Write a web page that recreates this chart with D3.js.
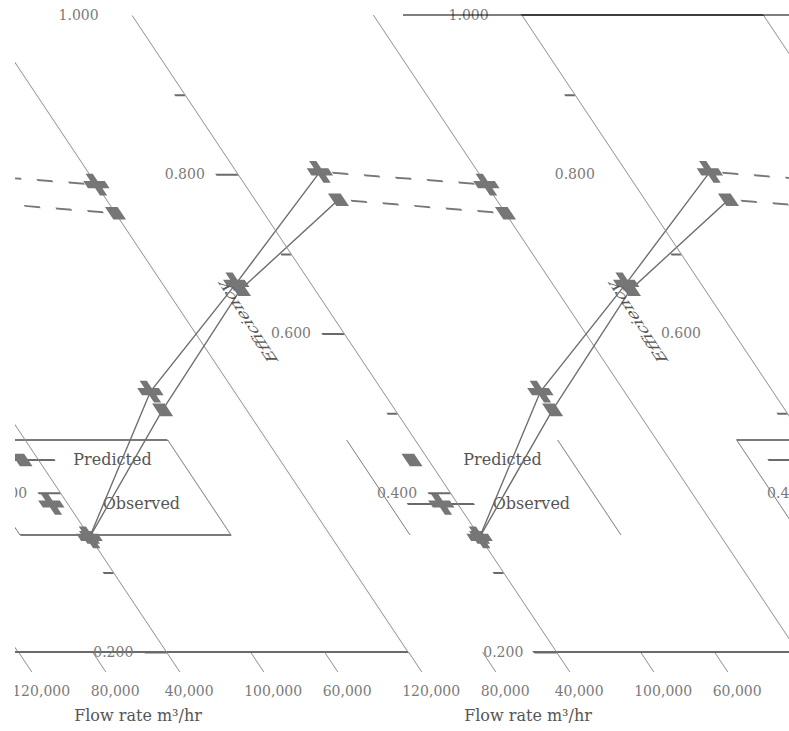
<!DOCTYPE html>
<html><head><meta charset="utf-8">
<script src="https://cdn.jsdelivr.net/npm/d3@7"></script>
<style>body{margin:0;background:#fff}svg{display:block}</style>
</head><body><svg id="chart" width="789" height="731"></svg>
<script>
// ---- data ----
const flowRates = [40000, 60000, 80000, 100000, 120000];
const observedEff = [0.344, 0.527, 0.663, 0.803, 0.787];
const predictedEff = [0.344, 0.504, 0.655, 0.768, 0.751];
const xTickValues = [40000, 60000, 80000, 100000, 120000];
const yMajorTicks = [0.2, 0.4, 0.6, 0.8, 1.0];
const yMinorTicks = [0.3, 0.5, 0.7, 0.9];
const seriesNames = ["Predicted", "Observed"];
const xTitle = "Flow rate m³/hr";
const yTitle = "Efficiency";

// ---- layout ----
const W = 789, H = 731;
const K = 0.6667;                       // shear
const ANG = Math.atan(K) * 180 / Math.PI;
const BASE = 652;                       // shear anchor (x-axis line)
const CLIPX = 15;
const FONT = "DejaVu Serif, Liberation Serif, serif";

const x = d3.scaleLinear().domain(d3.extent(flowRates)).range([166, 798]);
const y = d3.scaleLinear().domain([0.2, 1.0]).range([652, 15]);

const svg = d3.select("#chart");
const defs = svg.append("defs");
defs.append("clipPath").attr("id", "clipAll").append("rect")
  .attr("x", CLIPX).attr("y", 0).attr("width", W - CLIPX).attr("height", H);
defs.append("clipPath").attr("id", "clipRight").append("rect")
  .attr("x", 403).attr("y", 0).attr("width", W - 403).attr("height", H);

function layer(dx, clipId) {
  return svg.append("g").attr("clip-path", `url(#${clipId})`)
    .append("g")
    .attr("transform", `translate(${dx},0) translate(0,${BASE}) skewX(${ANG}) translate(0,${-BASE})`);
}
function upright(sel) {
  sel.each(function () {
    const t = d3.select(this);
    const ay = +(t.attr("y") || 0);
    t.attr("transform", `translate(0,${ay}) skewX(${-ANG}) translate(0,${-ay})`);
  });
}

const copies = [
  {dx: -780, axisLine: true,  box: "full",  predLine: true,  obsLine: false, majorTicks: true},
  {dx: -390, axisLine: true,  box: "full",  predLine: true,  obsLine: false, majorTicks: true},
  {dx: 0,    axisLine: false, box: "sides", predLine: false, obsLine: true,  majorTicks: true},
  {dx: 390,  axisLine: true,  box: "full",  predLine: true,  obsLine: true,  majorTicks: true},
  {dx: 780,  axisLine: true,  box: "full",  predLine: true,  obsLine: true,  majorTicks: false}
];

const crossSym = d3.symbol().type(d3.symbolCross).size(260);
const squareSym = d3.symbol().type(d3.symbolSquare).size(160);
const MARK = "#767676";

function drawChart(g, o) {
  const x0 = x.range()[0], x1 = x.range()[1];
  // right frame line
  g.append("line").attr("x1", x1).attr("x2", x1).attr("y1", y(1.0)).attr("y2", BASE)
    .attr("stroke", "#8c8c8c").attr("stroke-width", 1);

  // x axis
  const xa = g.append("g").attr("transform", `translate(0,${BASE})`)
    .call(d3.axisBottom(x).tickValues(xTickValues).tickSize(20).tickPadding(14)
      .tickSizeOuter(0).tickFormat(d3.format(",")));
  xa.select(".domain").remove();
  xa.selectAll(".tick line").attr("stroke", "#8c8c8c").attr("stroke-width", 1);
  xa.selectAll(".tick text").attr("font-family", FONT).attr("font-size", 14).attr("fill", "#7a7a7a");
  upright(xa.selectAll(".tick text"));
  if (o.axisLine) {
    g.append("line").attr("x1", x0 - 23).attr("x2", x1).attr("y1", BASE).attr("y2", BASE)
      .attr("stroke", "#6a6a6a").attr("stroke-width", 2);
  }
  // x title
  g.append("text").attr("x", (x0 + x1) / 2).attr("y", 721).attr("text-anchor", "middle")
    .attr("font-family", FONT).attr("font-size", 16).attr("fill", "#555").text(xTitle)
    .call(upright);

  // y axis
  const ya = g.append("g").attr("transform", `translate(${x0},0)`)
    .call(d3.axisLeft(y).tickValues(yMajorTicks).tickSize(22).tickPadding(11)
      .tickSizeOuter(0).tickFormat(d3.format(".3f")));
  ya.select(".domain").attr("stroke", "#8c8c8c").attr("stroke-width", 1);
  ya.selectAll(".tick line").attr("stroke", "#6a6a6a").attr("stroke-width", 2);
  ya.selectAll(".tick").filter(d => d === 1.0).select("line").remove();
  if (!o.majorTicks) ya.selectAll(".tick line").remove();
  ya.selectAll(".tick text").attr("font-family", FONT).attr("font-size", 14).attr("fill", "#7a7a7a");
  upright(ya.selectAll(".tick text"));
  const ym = g.append("g").attr("transform", `translate(${x0},0)`)
    .call(d3.axisLeft(y).tickValues(yMinorTicks).tickSize(10).tickFormat(""));
  ym.select(".domain").remove();
  ym.selectAll(".tick line").attr("stroke", "#6a6a6a").attr("stroke-width", 2);
  // y title
  g.append("text").attr("transform", `translate(${x0 - 89},322) rotate(-90)`)
    .attr("text-anchor", "middle").attr("dy", "0.35em")
    .attr("font-family", FONT).attr("font-size", 16).attr("fill", "#555").text(yTitle);

  // series
  const series = [
    {name: seriesNames[0], vals: predictedEff, sym: squareSym},
    {name: seriesNames[1], vals: observedEff, sym: crossSym}
  ];
  const line = d3.line().x(d => x(d[0])).y(d => y(d[1]));
  series.forEach(s => {
    const pts = flowRates.map((f, i) => [f, s.vals[i]]);
    g.append("path").attr("d", line(pts.slice(0, 4))).attr("fill", "none")
      .attr("stroke", "#6e6e6e").attr("stroke-width", 1);
    g.append("path").attr("d", line(pts.slice(3))).attr("fill", "none")
      .attr("stroke", "#777").attr("stroke-width", 2).attr("stroke-dasharray", "15,15")
      .attr("stroke-dashoffset", -12);
    g.selectAll(null).data(pts).join("path")
      .attr("transform", d => `translate(${x(d[0])},${y(d[1])})`)
      .attr("d", s.sym()).attr("fill", MARK);
  });

  // legend
  const bx0 = 488, bx1 = 699, by0 = 440, by1 = 535;
  const leg = g.append("g");
  const seg = (a, b, c, d) => leg.append("line").attr("x1", a).attr("y1", b).attr("x2", c).attr("y2", d)
    .attr("stroke", "#7a7a7a").attr("stroke-width", 2);
  if (o.box === "full") { seg(bx0, by0, bx1, by0); seg(bx0, by1, bx1, by1); }
  seg(bx0, by0, bx0, by1).attr("stroke-width", 1);
  seg(bx1, by0, bx1, by1).attr("stroke-width", 1);
  const rows = [
    {name: seriesNames[0], yy: 460, sym: squareSym, show: o.predLine},
    {name: seriesNames[1], yy: 504, sym: crossSym, show: o.obsLine}
  ];
  rows.forEach(r => {
    if (r.show) leg.append("line").attr("x1", 506).attr("x2", 573).attr("y1", r.yy).attr("y2", r.yy)
      .attr("stroke", "#6a6a6a").attr("stroke-width", 2);
    leg.append("path").attr("transform", `translate(540,${r.yy})`).attr("d", r.sym()).attr("fill", MARK);
    leg.append("text").attr("x", 588).attr("y", r.yy + 5)
      .attr("font-family", FONT).attr("font-size", 16).attr("fill", "#555").text(r.name)
      .call(upright);
  });
}

copies.forEach(o => drawChart(layer(o.dx, "clipAll"), o));

// top frame line, present only in the right-hand repeats
function topLine(g) {
  g.append("line").attr("x1", x.range()[0]).attr("x2", x.range()[1])
    .attr("y1", y(1.0)).attr("y2", y(1.0)).attr("stroke", "#000")
    .attr("stroke-opacity", 0.5).attr("stroke-width", 2);
}
topLine(layer(390, "clipRight"));
topLine(layer(780, "clipRight"));

// drop repeated texts that fall completely outside the visible area
svg.selectAll("text").each(function () {
  const b = this.getBoundingClientRect();
  if (b.right < CLIPX + 2 || b.left > W - 1 || b.bottom < 0 || b.top > H) this.remove();
});
</script>
</body></html>
